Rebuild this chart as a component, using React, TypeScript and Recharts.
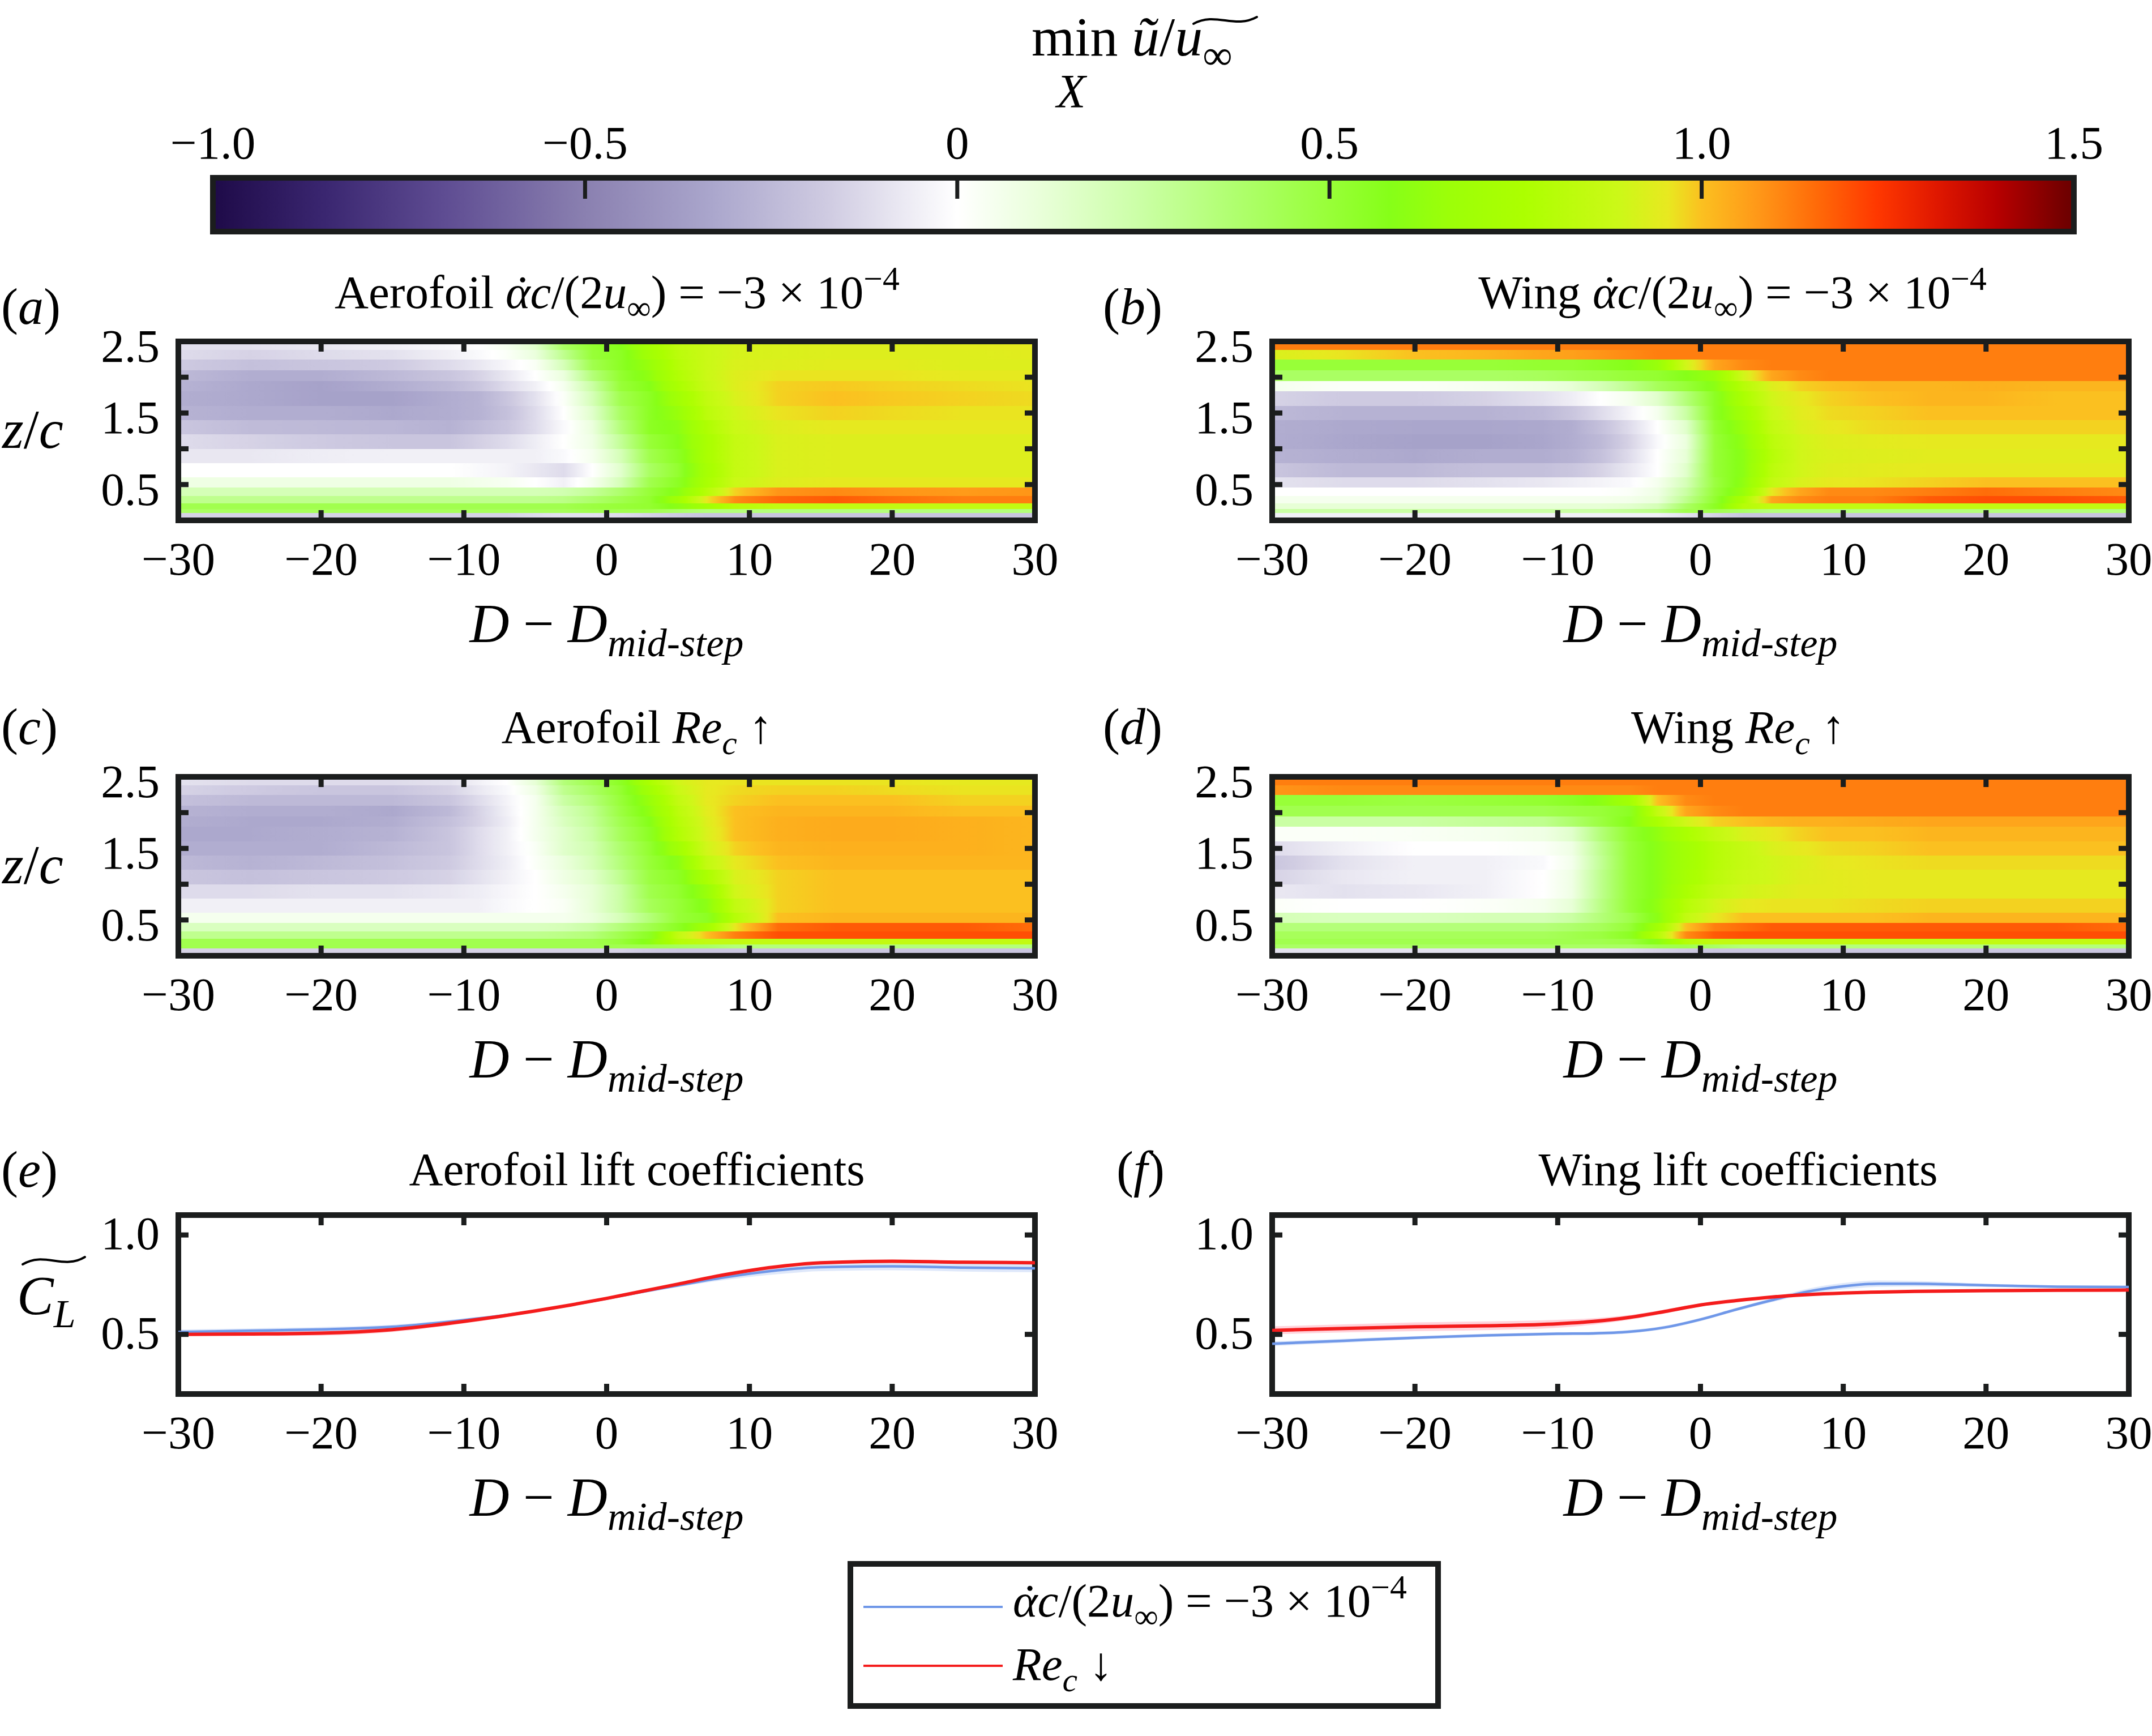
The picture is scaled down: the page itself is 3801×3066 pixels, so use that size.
import React, { useLayoutEffect, useRef, useState } from 'react';
import { ComposedChart, XAxis, YAxis, ReferenceArea, Line, Area } from 'recharts';

const SERIF = '"Liberation Serif", "Times New Roman", Times, serif';
const INK = '#1b1d1d';
const BLUE = '#6f97e8';
const RED = '#f41c1c';
const FONT = 83;
const LABEL_FONT = 97;
const TICK_LEN = 18;
const TICK_W = 9;

const CMAP_VALUES = [-1.0, -0.85, -0.69, -0.5, -0.33, -0.17, 0, 0.115, 0.24, 0.37, 0.5, 0.58, 0.66, 0.76, 0.89, 0.955, 1.0, 1.075, 1.155, 1.235, 1.315, 1.395, 1.49, 1.5];
const CMAP_COLOURS = ['#1e0a48', '#3a2670', '#5e4c92', '#8a80b0', '#aaa6cc', '#d0cce2', '#ffffff', '#e8ffd8', '#ccffa8', '#b0ff70', '#98ff38', '#86ff18', '#9cff08', '#acff00', '#ccf818', '#e8e820', '#fbc020', '#ff9818', '#ff6a08', '#ff3800', '#e01800', '#b80000', '#700000', '#6c0000'];
const CBAR_TICKS = [-1, -0.5, 0, 0.5, 1, 1.5];
const CBAR_LABELS = ['\u22121.0', '\u22120.5', '0', '0.5', '1.0', '1.5'];

const X_TICKS = [-30, -20, -10, 0, 10, 20, 30];
const X_TICK_LABELS = ['\u221230', '\u221220', '\u221210', '0', '10', '20', '30'];
const Z_TICKS = [0.5, 1, 1.5, 2, 2.5];
const Z_TICK_LABELS = ['0.5', '', '1.5', '', '2.5'];
const CL_TICKS = [0.5, 1.0];
const CL_TICK_LABELS = ['0.5', '1.0'];

// heat maps: value of min u/u_inf at these D - D_mid-step nodes, one list per z/c band
const X_NODES = [-30, -25, -20, -15, -11, -9, -7, -5, -3, -1, 1, 3, 5, 7, 9, 12, 16, 20, 25, 30];
const Z_EDGES = [0, 0.1, 0.16, 0.24, 0.34, 0.46, 0.6, 0.8, 1.0, 1.2, 1.4, 1.6, 1.8, 1.95, 2.1, 2.25, 2.38, 2.46, 2.5];

const HEAT_A = [
  [-0.15, -0.15, -0.15, -0.15, -0.15, -0.15, -0.15, -0.12, -0.1, -0.1, -0.12, -0.15, -0.18, -0.2, -0.2, -0.2, -0.2, -0.2, -0.2, -0.2],
  [0.4, 0.42, 0.42, 0.42, 0.42, 0.42, 0.42, 0.42, 0.42, 0.45, 0.45, 0.45, 0.4, 0.35, 0.35, 0.35, 0.35, 0.35, 0.35, 0.35],
  [0.45, 0.45, 0.45, 0.45, 0.45, 0.45, 0.45, 0.45, 0.45, 0.48, 0.5, 0.52, 0.6, 0.7, 0.8, 0.85, 0.85, 0.85, 0.85, 0.85],
  [0.3, 0.3, 0.3, 0.3, 0.3, 0.3, 0.3, 0.3, 0.32, 0.38, 0.45, 0.52, 0.7, 0.95, 1.1, 1.16, 1.18, 1.15, 1.12, 1.12],
  [0.2, 0.2, 0.2, 0.2, 0.2, 0.2, 0.2, 0.2, 0.22, 0.28, 0.38, 0.5, 0.6, 0.8, 0.98, 1.08, 1.1, 1.08, 1.07, 1.08],
  [0.08, 0.08, 0.08, 0.08, 0.08, 0.06, 0.04, 0.0, -0.05, 0.05, 0.2, 0.45, 0.55, 0.74, 0.88, 0.93, 0.95, 0.95, 0.95, 0.95],
  [0.0, 0.0, 0.0, 0.0, 0.0, -0.02, -0.04, -0.08, -0.12, 0.0, 0.15, 0.4, 0.52, 0.72, 0.86, 0.92, 0.93, 0.93, 0.93, 0.93],
  [-0.08, -0.08, -0.06, -0.05, -0.05, -0.05, -0.05, -0.05, -0.02, 0.05, 0.2, 0.45, 0.55, 0.74, 0.86, 0.92, 0.93, 0.93, 0.93, 0.93],
  [-0.12, -0.15, -0.18, -0.2, -0.2, -0.16, -0.12, -0.06, 0.0, 0.08, 0.28, 0.5, 0.58, 0.74, 0.86, 0.92, 0.93, 0.93, 0.93, 0.93],
  [-0.2, -0.24, -0.25, -0.26, -0.28, -0.24, -0.2, -0.12, -0.02, 0.1, 0.35, 0.55, 0.6, 0.77, 0.88, 0.93, 0.95, 0.95, 0.95, 0.95],
  [-0.28, -0.3, -0.3, -0.32, -0.3, -0.28, -0.22, -0.12, 0.0, 0.15, 0.4, 0.55, 0.65, 0.82, 0.9, 0.96, 0.98, 0.97, 0.96, 0.96],
  [-0.3, -0.32, -0.35, -0.35, -0.3, -0.28, -0.2, -0.1, 0.02, 0.2, 0.45, 0.55, 0.7, 0.84, 0.92, 0.98, 1.0, 0.99, 0.98, 0.97],
  [-0.28, -0.32, -0.35, -0.3, -0.25, -0.2, -0.12, -0.05, 0.05, 0.25, 0.5, 0.58, 0.75, 0.87, 0.93, 0.98, 0.99, 0.98, 0.97, 0.96],
  [-0.25, -0.3, -0.3, -0.25, -0.2, -0.15, -0.08, 0.0, 0.1, 0.35, 0.52, 0.62, 0.78, 0.88, 0.93, 0.96, 0.96, 0.96, 0.95, 0.95],
  [-0.18, -0.22, -0.2, -0.18, -0.12, -0.08, -0.03, 0.03, 0.2, 0.45, 0.55, 0.65, 0.8, 0.88, 0.92, 0.93, 0.94, 0.94, 0.93, 0.93],
  [-0.12, -0.15, -0.12, -0.1, -0.05, -0.02, 0.02, 0.1, 0.3, 0.5, 0.55, 0.7, 0.82, 0.88, 0.91, 0.92, 0.93, 0.93, 0.93, 0.94],
  [-0.1, -0.1, -0.08, -0.05, -0.02, 0.0, 0.05, 0.15, 0.4, 0.52, 0.58, 0.72, 0.84, 0.88, 0.91, 0.92, 0.93, 0.93, 0.94, 0.95],
  [-0.1, -0.1, -0.08, -0.05, -0.02, 0.0, 0.05, 0.15, 0.4, 0.52, 0.58, 0.72, 0.84, 0.88, 0.91, 0.92, 0.93, 0.93, 0.94, 0.95],
];

const HEAT_B = [
  [-0.05, -0.05, -0.05, -0.05, -0.05, -0.05, -0.05, -0.05, -0.05, -0.1, -0.15, -0.2, -0.2, -0.2, -0.2, -0.2, -0.2, -0.2, -0.2, -0.2],
  [0.25, 0.25, 0.25, 0.25, 0.25, 0.25, 0.25, 0.28, 0.32, 0.45, 0.45, 0.4, 0.35, 0.35, 0.35, 0.35, 0.35, 0.35, 0.35, 0.35],
  [0.12, 0.12, 0.12, 0.12, 0.12, 0.12, 0.12, 0.14, 0.2, 0.4, 0.55, 0.8, 0.85, 0.85, 0.85, 0.85, 0.85, 0.85, 0.85, 0.85],
  [0.05, 0.05, 0.05, 0.05, 0.05, 0.05, 0.05, 0.06, 0.1, 0.3, 0.52, 0.75, 1.05, 1.1, 1.12, 1.12, 1.18, 1.2, 1.2, 1.18],
  [0.0, 0.0, 0.0, 0.0, 0.0, 0.0, 0.0, 0.02, 0.08, 0.25, 0.5, 0.65, 0.95, 1.05, 1.1, 1.1, 1.12, 1.15, 1.12, 1.1],
  [-0.1, -0.12, -0.12, -0.1, -0.08, -0.06, -0.04, -0.02, 0.05, 0.2, 0.48, 0.62, 0.85, 0.92, 0.95, 0.96, 0.98, 1.0, 1.0, 1.0],
  [-0.2, -0.25, -0.25, -0.22, -0.22, -0.2, -0.15, -0.08, 0.0, 0.15, 0.5, 0.6, 0.82, 0.9, 0.93, 0.94, 0.95, 0.95, 0.95, 0.95],
  [-0.28, -0.3, -0.32, -0.3, -0.3, -0.28, -0.22, -0.12, 0.0, 0.12, 0.5, 0.6, 0.8, 0.9, 0.92, 0.93, 0.94, 0.94, 0.94, 0.94],
  [-0.3, -0.33, -0.35, -0.35, -0.33, -0.3, -0.25, -0.15, -0.02, 0.1, 0.5, 0.62, 0.82, 0.9, 0.93, 0.94, 0.95, 0.95, 0.95, 0.95],
  [-0.3, -0.32, -0.33, -0.33, -0.32, -0.3, -0.22, -0.12, 0.0, 0.15, 0.52, 0.65, 0.85, 0.92, 0.95, 0.97, 0.98, 0.98, 0.98, 0.98],
  [-0.25, -0.28, -0.28, -0.28, -0.25, -0.2, -0.12, -0.04, 0.05, 0.25, 0.55, 0.7, 0.88, 0.94, 0.97, 0.98, 1.0, 1.0, 1.0, 1.0],
  [-0.15, -0.18, -0.18, -0.15, -0.1, -0.06, 0.0, 0.05, 0.15, 0.35, 0.55, 0.75, 0.9, 0.95, 0.98, 1.0, 1.02, 1.02, 1.0, 1.0],
  [0.05, 0.02, 0.02, 0.05, 0.08, 0.12, 0.2, 0.3, 0.42, 0.5, 0.6, 0.8, 0.93, 0.98, 1.0, 1.02, 1.02, 1.03, 1.02, 1.02],
  [0.4, 0.4, 0.4, 0.4, 0.42, 0.45, 0.47, 0.5, 0.52, 0.58, 0.65, 0.9, 1.05, 1.1, 1.12, 1.12, 1.12, 1.12, 1.12, 1.12],
  [0.5, 0.5, 0.5, 0.5, 0.52, 0.52, 0.55, 0.58, 0.65, 0.9, 1.05, 1.1, 1.12, 1.12, 1.12, 1.12, 1.12, 1.12, 1.12, 1.12],
  [0.92, 0.96, 1.0, 1.02, 1.05, 1.06, 1.08, 1.1, 1.12, 1.12, 1.12, 1.12, 1.12, 1.12, 1.12, 1.12, 1.12, 1.12, 1.12, 1.12],
  [1.12, 1.12, 1.12, 1.12, 1.12, 1.12, 1.12, 1.12, 1.12, 1.12, 1.12, 1.12, 1.12, 1.12, 1.12, 1.12, 1.12, 1.12, 1.12, 1.12],
  [0.96, 0.96, 0.96, 0.96, 0.96, 0.96, 0.96, 0.96, 0.96, 0.96, 0.96, 0.96, 0.96, 0.96, 0.96, 0.96, 0.96, 0.96, 0.96, 0.96],
];

const HEAT_C = [
  [-0.15, -0.15, -0.15, -0.15, -0.15, -0.15, -0.15, -0.15, -0.15, -0.15, -0.15, -0.18, -0.2, -0.2, -0.2, -0.2, -0.2, -0.2, -0.2, -0.2],
  [0.45, 0.45, 0.45, 0.45, 0.45, 0.45, 0.45, 0.45, 0.45, 0.45, 0.45, 0.45, 0.42, 0.4, 0.35, 0.35, 0.35, 0.35, 0.35, 0.35],
  [0.45, 0.45, 0.45, 0.45, 0.45, 0.45, 0.45, 0.45, 0.45, 0.45, 0.5, 0.6, 0.8, 0.85, 0.85, 0.85, 0.85, 0.85, 0.85, 0.85],
  [0.3, 0.3, 0.3, 0.3, 0.3, 0.3, 0.3, 0.3, 0.32, 0.35, 0.45, 0.55, 0.85, 1.0, 1.12, 1.2, 1.2, 1.2, 1.2, 1.2],
  [0.18, 0.18, 0.18, 0.18, 0.18, 0.18, 0.18, 0.18, 0.2, 0.25, 0.35, 0.45, 0.55, 0.7, 0.95, 1.15, 1.18, 1.18, 1.18, 1.15],
  [0.05, 0.05, 0.05, 0.05, 0.05, 0.05, 0.05, 0.05, 0.05, 0.1, 0.2, 0.35, 0.5, 0.55, 0.8, 1.0, 1.02, 1.02, 1.02, 1.02],
  [-0.05, -0.05, -0.05, -0.05, -0.05, -0.05, -0.02, 0.0, 0.03, 0.12, 0.25, 0.42, 0.5, 0.6, 0.85, 0.98, 1.0, 1.0, 1.0, 1.0],
  [-0.12, -0.12, -0.1, -0.1, -0.08, -0.06, -0.03, 0.0, 0.05, 0.12, 0.25, 0.45, 0.52, 0.65, 0.9, 0.98, 1.0, 1.0, 1.0, 1.0],
  [-0.2, -0.22, -0.2, -0.18, -0.15, -0.1, -0.05, 0.0, 0.08, 0.15, 0.3, 0.48, 0.55, 0.75, 0.92, 0.98, 1.0, 1.0, 1.0, 1.0],
  [-0.25, -0.28, -0.25, -0.22, -0.18, -0.12, -0.06, 0.02, 0.1, 0.2, 0.35, 0.5, 0.6, 0.85, 0.95, 1.0, 1.02, 1.02, 1.02, 1.02],
  [-0.3, -0.3, -0.3, -0.25, -0.2, -0.12, -0.05, 0.03, 0.15, 0.22, 0.38, 0.52, 0.7, 0.9, 0.98, 1.02, 1.03, 1.03, 1.03, 1.02],
  [-0.32, -0.32, -0.3, -0.28, -0.2, -0.12, -0.05, 0.05, 0.15, 0.25, 0.42, 0.55, 0.78, 0.92, 1.0, 1.03, 1.04, 1.04, 1.03, 1.02],
  [-0.3, -0.32, -0.32, -0.3, -0.22, -0.15, -0.06, 0.05, 0.18, 0.28, 0.45, 0.58, 0.8, 0.93, 1.0, 1.03, 1.04, 1.04, 1.03, 1.02],
  [-0.28, -0.3, -0.3, -0.32, -0.25, -0.15, -0.05, 0.05, 0.2, 0.3, 0.48, 0.62, 0.82, 0.94, 1.0, 1.02, 1.02, 1.02, 1.0, 1.0],
  [-0.22, -0.25, -0.25, -0.25, -0.2, -0.12, -0.04, 0.05, 0.25, 0.35, 0.5, 0.65, 0.85, 0.95, 0.98, 1.0, 1.0, 1.0, 0.98, 0.98],
  [-0.15, -0.18, -0.2, -0.2, -0.15, -0.08, -0.02, 0.08, 0.3, 0.4, 0.52, 0.7, 0.88, 0.95, 0.97, 0.98, 0.98, 0.97, 0.96, 0.96],
  [-0.1, -0.12, -0.12, -0.12, -0.1, -0.05, 0.0, 0.12, 0.35, 0.45, 0.55, 0.75, 0.9, 0.95, 0.96, 0.96, 0.96, 0.96, 0.95, 0.95],
  [-0.1, -0.12, -0.12, -0.12, -0.1, -0.05, 0.0, 0.12, 0.35, 0.45, 0.55, 0.75, 0.9, 0.95, 0.96, 0.96, 0.96, 0.96, 0.95, 0.95],
];

const HEAT_D = [
  [-0.1, -0.1, -0.1, -0.1, -0.1, -0.1, -0.1, -0.12, -0.15, -0.18, -0.2, -0.2, -0.2, -0.2, -0.2, -0.2, -0.2, -0.2, -0.2, -0.2],
  [0.4, 0.4, 0.4, 0.4, 0.4, 0.4, 0.4, 0.4, 0.45, 0.45, 0.4, 0.35, 0.35, 0.35, 0.35, 0.35, 0.35, 0.35, 0.35, 0.35],
  [0.45, 0.45, 0.45, 0.45, 0.45, 0.45, 0.45, 0.48, 0.6, 0.8, 0.85, 0.85, 0.85, 0.85, 0.85, 0.85, 0.85, 0.85, 0.85, 0.85],
  [0.42, 0.42, 0.42, 0.42, 0.42, 0.45, 0.48, 0.55, 0.8, 1.1, 1.18, 1.2, 1.2, 1.2, 1.2, 1.2, 1.2, 1.2, 1.2, 1.2],
  [0.35, 0.35, 0.35, 0.35, 0.35, 0.38, 0.42, 0.5, 0.7, 1.0, 1.12, 1.15, 1.18, 1.18, 1.18, 1.18, 1.18, 1.18, 1.18, 1.15],
  [0.2, 0.18, 0.18, 0.2, 0.2, 0.25, 0.35, 0.45, 0.6, 0.85, 0.95, 1.0, 1.0, 1.0, 1.0, 1.0, 1.02, 1.02, 1.02, 1.02],
  [0.02, 0.0, 0.0, 0.02, 0.05, 0.12, 0.32, 0.5, 0.62, 0.8, 0.9, 0.95, 0.96, 0.96, 0.96, 0.97, 0.98, 0.98, 0.98, 0.98],
  [-0.08, -0.1, -0.08, -0.05, 0.0, 0.08, 0.3, 0.5, 0.6, 0.75, 0.85, 0.9, 0.92, 0.94, 0.94, 0.95, 0.95, 0.95, 0.95, 0.95],
  [-0.15, -0.08, -0.05, -0.05, 0.0, 0.08, 0.3, 0.5, 0.6, 0.72, 0.82, 0.88, 0.9, 0.93, 0.94, 0.95, 0.95, 0.95, 0.95, 0.95],
  [-0.2, -0.1, -0.05, -0.05, -0.02, 0.06, 0.28, 0.5, 0.6, 0.7, 0.8, 0.86, 0.9, 0.92, 0.95, 0.96, 0.97, 0.97, 0.97, 0.97],
  [-0.12, -0.05, 0.0, 0.0, 0.02, 0.08, 0.3, 0.5, 0.6, 0.7, 0.8, 0.86, 0.92, 0.95, 0.97, 0.98, 1.0, 1.0, 1.0, 1.0],
  [0.02, 0.02, 0.03, 0.05, 0.08, 0.15, 0.35, 0.52, 0.62, 0.75, 0.85, 0.92, 0.95, 0.98, 1.0, 1.0, 1.02, 1.02, 1.02, 1.02],
  [0.25, 0.25, 0.25, 0.28, 0.3, 0.38, 0.48, 0.58, 0.75, 0.9, 0.98, 1.0, 1.02, 1.03, 1.03, 1.04, 1.05, 1.05, 1.05, 1.05],
  [0.45, 0.45, 0.45, 0.45, 0.45, 0.48, 0.5, 0.55, 0.85, 1.05, 1.1, 1.12, 1.12, 1.12, 1.12, 1.12, 1.12, 1.12, 1.12, 1.12],
  [0.5, 0.5, 0.48, 0.5, 0.52, 0.55, 0.6, 0.7, 1.0, 1.1, 1.12, 1.12, 1.12, 1.12, 1.12, 1.12, 1.12, 1.12, 1.12, 1.12],
  [1.08, 1.1, 1.1, 1.1, 1.1, 1.1, 1.1, 1.1, 1.12, 1.12, 1.12, 1.12, 1.12, 1.12, 1.12, 1.12, 1.12, 1.12, 1.12, 1.12],
  [1.12, 1.12, 1.12, 1.12, 1.12, 1.12, 1.12, 1.12, 1.12, 1.12, 1.12, 1.12, 1.12, 1.12, 1.12, 1.12, 1.12, 1.12, 1.12, 1.12],
  [0.96, 0.96, 0.96, 0.96, 0.96, 0.96, 0.96, 0.96, 0.96, 0.96, 0.96, 0.96, 0.96, 0.96, 0.96, 0.96, 0.96, 0.96, 0.96, 0.96],
];

// lift coefficients
const CL_X = [-30, -25, -20, -15, -10, -7.5, -5, -2.5, 0, 2.5, 5, 7.5, 10, 12.5, 15, 20, 25, 30];
const AERO_BLUE = [0.512, 0.518, 0.525, 0.538, 0.572, 0.593, 0.618, 0.648, 0.68, 0.714, 0.746, 0.778, 0.805, 0.826, 0.838, 0.842, 0.836, 0.832];
const AERO_RED = [0.5, 0.502, 0.506, 0.524, 0.565, 0.59, 0.618, 0.648, 0.681, 0.717, 0.753, 0.79, 0.821, 0.845, 0.86, 0.868, 0.863, 0.86];
const AERO_BLUE_SPREAD = [0.012, 0.012, 0.012, 0.01, 0.008, 0.006, 0.005, 0.005, 0.005, 0.006, 0.008, 0.012, 0.016, 0.02, 0.02, 0.02, 0.02, 0.02];
const AERO_RED_SPREAD = [0.008, 0.01, 0.012, 0.012, 0.01, 0.008, 0.006, 0.005, 0.005, 0.005, 0.005, 0.005, 0.005, 0.005, 0.005, 0.005, 0.005, 0.005];
const WING_BLUE = [0.453, 0.468, 0.483, 0.495, 0.503, 0.505, 0.513, 0.535, 0.575, 0.625, 0.672, 0.715, 0.742, 0.755, 0.755, 0.747, 0.74, 0.738];
const WING_RED = [0.52, 0.53, 0.538, 0.543, 0.553, 0.565, 0.585, 0.615, 0.648, 0.67, 0.688, 0.7, 0.708, 0.713, 0.716, 0.72, 0.722, 0.723];
const WING_BLUE_SPREAD = [0.012, 0.01, 0.008, 0.008, 0.008, 0.008, 0.008, 0.008, 0.008, 0.008, 0.01, 0.014, 0.016, 0.016, 0.014, 0.008, 0.006, 0.006];
const WING_RED_SPREAD = [0.02, 0.02, 0.022, 0.022, 0.02, 0.016, 0.012, 0.01, 0.008, 0.006, 0.005, 0.005, 0.005, 0.005, 0.005, 0.005, 0.005, 0.005];

const PLOT_W = 1513;
const PLOT_H = 316;
const PAD = { top: 40, right: 40, bottom: 130, left: 180 };
// the four axes each take 1px of the margin
const MARGIN = { top: PAD.top - 1, right: PAD.right - 1, bottom: PAD.bottom - 1, left: PAD.left - 1 };

function hexRgb(h: string) {
  const n = parseInt(h.slice(1), 16);
  return [(n >> 16) & 255, (n >> 8) & 255, n & 255];
}

function cmap(v: number) {
  if (v <= CMAP_VALUES[0]) return CMAP_COLOURS[0];
  for (let i = 1; i < CMAP_VALUES.length; i++) {
    if (v <= CMAP_VALUES[i]) {
      const t = (v - CMAP_VALUES[i - 1]) / (CMAP_VALUES[i] - CMAP_VALUES[i - 1]);
      const a = hexRgb(CMAP_COLOURS[i - 1]);
      const b = hexRgb(CMAP_COLOURS[i]);
      const c = a.map((q, k) => Math.round(q + (b[k] - q) * t));
      return `rgb(${c[0]},${c[1]},${c[2]})`;
    }
  }
  return CMAP_COLOURS[CMAP_COLOURS.length - 1];
}

// horizontal shading of one z band, stops placed along the x domain
function RowGradient({ id, values }: { id: string; values: number[] }) {
  const span = X_NODES[X_NODES.length - 1] - X_NODES[0];
  const stops: [number, string][] = [];
  for (let k = 0; k < X_NODES.length - 1; k++) {
    for (let s = 0; s < 4; s++) {
      const t = s / 4;
      const x = X_NODES[k] + (X_NODES[k + 1] - X_NODES[k]) * t;
      const v = values[k] + (values[k + 1] - values[k]) * t;
      stops.push([(x - X_NODES[0]) / span, cmap(v)]);
    }
  }
  stops.push([1, cmap(values[values.length - 1])]);
  return (
    <linearGradient id={id} x1="0" y1="0" x2="1" y2="0">
      {stops.map(([o, c], i) => <stop key={i} offset={o} stopColor={c} />)}
    </linearGradient>
  );
}

function xTick(side: 'bottom' | 'top', ticks: number[], labels: string[], lo: number, hi: number, dy: number) {
  return (p: any) => {
    const v = Number(p.payload.value);
    const k = ticks.indexOf(v);
    const inner = v > lo && v < hi;
    const dir = side === 'bottom' ? -1 : 1;
    return (
      <g>
        {inner && <line x1={p.x} x2={p.x} y1={p.y} y2={p.y + dir * TICK_LEN} stroke={INK} strokeWidth={TICK_W} />}
        {side === 'bottom' && k >= 0 && labels[k] && (
          <text x={p.x} y={p.y + dy} textAnchor="middle" fontFamily={SERIF} fontSize={FONT} fill="#000">{labels[k]}</text>
        )}
      </g>
    );
  };
}

function yTick(side: 'left' | 'right', ticks: number[], labels: string[], lo: number, hi: number, dy: number) {
  return (p: any) => {
    const v = Number(p.payload.value);
    const k = ticks.indexOf(v);
    const inner = v > lo && v < hi;
    const dir = side === 'left' ? 1 : -1;
    return (
      <g>
        {inner && <line x1={p.x} x2={p.x + dir * TICK_LEN} y1={p.y} y2={p.y} stroke={INK} strokeWidth={TICK_W} />}
        {side === 'left' && k >= 0 && labels[k] && (
          <text x={p.x - 33} y={p.y + dy} textAnchor="end" fontFamily={SERIF} fontSize={FONT} fill="#000">{labels[k]}</text>
        )}
      </g>
    );
  };
}

function HeatPanel({ id, rows, px, py }: { id: string; rows: number[][]; px: number; py: number }) {
  return (
    <div style={{ position: 'absolute', left: px - PAD.left, top: py - PAD.top }}>
      <ComposedChart width={PLOT_W + PAD.left + PAD.right} height={PLOT_H + PAD.top + PAD.bottom} margin={MARGIN} data={[]}>
        {rows.map((_, i) => (
          <ReferenceArea
            key={i}
            x1={-30}
            x2={30}
            y1={Z_EDGES[i]}
            y2={Z_EDGES[i + 1]}
            fill={`url(#${id}-${i})`}
            fillOpacity={1}
            stroke="none"
            ifOverflow="visible"
            shapeRendering="crispEdges"
          />
        ))}
        <ReferenceArea x1={-30} x2={30} y1={0} y2={2.5} fill="none" fillOpacity={0} stroke={INK} strokeWidth={10} ifOverflow="visible" />
        <XAxis type="number" dataKey="x" domain={[-30, 30]} ticks={X_TICKS} interval={0} height={1} tickSize={0} tickMargin={0}
          axisLine={false} tickLine={false} allowDataOverflow tick={xTick('bottom', X_TICKS, X_TICK_LABELS, -30, 30, 96)} />
        <XAxis xAxisId="top" orientation="top" type="number" dataKey="x" domain={[-30, 30]} ticks={X_TICKS} interval={0} height={1}
          tickSize={0} tickMargin={0} axisLine={false} tickLine={false} allowDataOverflow tick={xTick('top', X_TICKS, X_TICK_LABELS, -30, 30, 0)} />
        <YAxis type="number" domain={[0, 2.5]} ticks={Z_TICKS} interval={0} width={1} tickSize={0} tickMargin={0}
          axisLine={false} tickLine={false} allowDataOverflow tick={yTick('left', Z_TICKS, Z_TICK_LABELS, 0, 2.5, 36)} />
        <YAxis yAxisId="right" orientation="right" type="number" domain={[0, 2.5]} ticks={Z_TICKS} interval={0} width={1}
          tickSize={0} tickMargin={0} axisLine={false} tickLine={false} allowDataOverflow tick={yTick('right', Z_TICKS, Z_TICK_LABELS, 0, 2.5, 0)} />
      </ComposedChart>
    </div>
  );
}

function LinePanel({ px, py, blue, red, blueSpread, redSpread }: {
  px: number; py: number; blue: number[]; red: number[]; blueSpread: number[]; redSpread: number[];
}) {
  const data = CL_X.map((x, i) => ({
    x,
    blue: blue[i],
    red: red[i],
    blueBand: [blue[i] - blueSpread[i], blue[i] + blueSpread[i]],
    redBand: [red[i] - redSpread[i], red[i] + redSpread[i]],
  }));
  return (
    <div style={{ position: 'absolute', left: px - PAD.left, top: py - PAD.top }}>
      <ComposedChart width={PLOT_W + PAD.left + PAD.right} height={PLOT_H + PAD.top + PAD.bottom} margin={MARGIN} data={data}>
        <Area dataKey="blueBand" type="monotone" stroke="none" fill={BLUE} fillOpacity={0.22} isAnimationActive={false} activeDot={false} />
        <Area dataKey="redBand" type="monotone" stroke="none" fill="#ff5070" fillOpacity={0.25} isAnimationActive={false} activeDot={false} />
        <Line dataKey="blue" type="monotone" stroke={BLUE} strokeWidth={4.5} dot={false} activeDot={false} isAnimationActive={false} />
        <Line dataKey="red" type="monotone" stroke={RED} strokeWidth={6} dot={false} activeDot={false} isAnimationActive={false} />
        <ReferenceArea x1={-30} x2={30} y1={0.2} y2={1.1} fill="none" fillOpacity={0} stroke={INK} strokeWidth={10} ifOverflow="visible" />
        <XAxis type="number" dataKey="x" domain={[-30, 30]} ticks={X_TICKS} interval={0} height={1} tickSize={0} tickMargin={0}
          axisLine={false} tickLine={false} allowDataOverflow tick={xTick('bottom', X_TICKS, X_TICK_LABELS, -30, 30, 96)} />
        <XAxis xAxisId="top" orientation="top" type="number" dataKey="x" domain={[-30, 30]} ticks={X_TICKS} interval={0} height={1}
          tickSize={0} tickMargin={0} axisLine={false} tickLine={false} allowDataOverflow tick={xTick('top', X_TICKS, X_TICK_LABELS, -30, 30, 0)} />
        <YAxis type="number" domain={[0.2, 1.1]} ticks={CL_TICKS} interval={0} width={1} tickSize={0} tickMargin={0}
          axisLine={false} tickLine={false} allowDataOverflow tick={yTick('left', CL_TICKS, CL_TICK_LABELS, 0.2, 1.1, 25)} />
        <YAxis yAxisId="right" orientation="right" type="number" domain={[0.2, 1.1]} ticks={CL_TICKS} interval={0} width={1}
          tickSize={0} tickMargin={0} axisLine={false} tickLine={false} allowDataOverflow tick={yTick('right', CL_TICKS, CL_TICK_LABELS, 0.2, 1.1, 0)} />
      </ComposedChart>
    </div>
  );
}

function ColourBar() {
  const cb = { top: 150, right: 90, bottom: 20, left: 130 };
  const px = 376;
  const py = 314;
  const w = 3287;
  const h = 95;
  const tick = (p: any) => {
    const v = Number(p.payload.value);
    const k = CBAR_TICKS.indexOf(v);
    const inner = v > CBAR_TICKS[0] && v < CBAR_TICKS[CBAR_TICKS.length - 1];
    return (
      <g>
        {inner && <line x1={p.x} x2={p.x} y1={p.y} y2={p.y + 37} stroke={INK} strokeWidth={7} />}
        <text x={p.x} y={p.y - 34} textAnchor="middle" fontFamily={SERIF} fontSize={FONT} fill="#000">{CBAR_LABELS[k]}</text>
      </g>
    );
  };
  return (
    <div style={{ position: 'absolute', left: px - cb.left, top: py - cb.top }}>
      <ComposedChart width={w + cb.left + cb.right} height={h + cb.top + cb.bottom}
        margin={{ top: cb.top - 1, right: cb.right, bottom: cb.bottom, left: cb.left - 1 }} data={[]}>
        <ReferenceArea x1={-1} x2={1.5} y1={0} y2={1} fill="url(#cbar)" fillOpacity={1} stroke={INK} strokeWidth={10} ifOverflow="visible" />
        <XAxis orientation="top" type="number" dataKey="x" domain={[-1, 1.5]} ticks={CBAR_TICKS} interval={0} height={1} tickSize={0}
          tickMargin={0} axisLine={false} tickLine={false} allowDataOverflow tick={tick} />
        <YAxis type="number" domain={[0, 1]} width={1} tick={false} axisLine={false} tickLine={false} allowDataOverflow />
      </ComposedChart>
    </div>
  );
}

type Seg = { t: string; i?: boolean; sub?: boolean; sup?: boolean; dot?: boolean };

function Rich({ x, y, segs, size, anchor = 'middle', subDy = 0.24, supDy = -0.38, small = 0.72 }: {
  x: number; y: number; segs: Seg[]; size: number; anchor?: string; subDy?: number; supDy?: number; small?: number;
}) {
  // a segment flagged "dot" gets an overdot drawn above its first letter
  const dotRef = useRef<any>(null);
  const [dot, setDot] = useState<[number, number] | null>(null);
  useLayoutEffect(() => {
    const el = dotRef.current;
    if (el && el.getExtentOfChar) {
      const r = el.getExtentOfChar(0);
      setDot([r.x + r.width * 0.5 + size * 0.1, y - size * 0.6]);
    }
  }, [x, y, size]);
  let shift = 0;
  return (
    <g>
      <text x={x} y={y} fontSize={size} fontFamily={SERIF} textAnchor={anchor as any} fill="#000">
        {segs.map((s, k) => {
          const target = s.sub ? subDy * size : s.sup ? supDy * size : 0;
          const dy = target - shift;
          shift = target;
          return (
            <tspan key={k} ref={s.dot ? dotRef : undefined} dy={dy} fontStyle={s.i ? 'italic' : 'normal'}
              fontSize={s.sub || s.sup ? size * small : size}>
              {s.t}
            </tspan>
          );
        })}
      </text>
      {dot && <circle cx={dot[0]} cy={dot[1]} r={size * 0.055} fill="#000" />}
    </g>
  );
}

function Tilde({ x, y, w, h, sw = 4 }: { x: number; y: number; w: number; h: number; sw?: number }) {
  const d = `M ${x} ${y + h} C ${x + w * 0.35} ${y - h * 0.8}, ${x + w * 0.65} ${y + h * 1.8}, ${x + w} ${y}`;
  return <path d={d} fill="none" stroke="#000" strokeWidth={sw} strokeLinecap="round" />;
}

const RATE_SEGS: Seg[] = [
  { t: '\u03B1', i: true, dot: true }, { t: 'c', i: true }, { t: '/(2' }, { t: 'u', i: true },
  { t: '\u221E', sub: true }, { t: ') = \u22123 \u00D7 10' }, { t: '\u22124', sup: true },
];
const AXIS_SEGS: Seg[] = [{ t: 'D', i: true }, { t: ' \u2212 ' }, { t: 'D', i: true }, { t: 'mid-step', i: true, sub: true }];

function Letter({ x, y, l }: { x: number; y: number; l: string }) {
  return <Rich x={x} y={y} size={90} anchor="start" segs={[{ t: '(' }, { t: l, i: true }, { t: ')' }]} />;
}

function Overlay() {
  const leftC = 315 + PLOT_W / 2;
  const rightC = 2247 + PLOT_W / 2;
  const rows = [603, 1372, 2146];
  return (
    <svg width={3801} height={3066} style={{ position: 'absolute', left: 0, top: 0 }}>
      {/* colour bar label */}
      <Rich x={1822} y={98} size={98} anchor="start" small={0.75}
        segs={[{ t: 'min ' }, { t: '\u0169', i: true }, { t: '/' }, { t: 'u', i: true }, { t: '\u221E', sub: true }]} />
      <Tilde x={2108} y={30} w={112} h={12} />
      <Rich x={1892} y={190} size={84} segs={[{ t: 'X', i: true }]} />

      {/* panel letters */}
      <Letter x={2} y={572} l="a" />
      <Letter x={1948} y={572} l="b" />
      <Letter x={2} y={1314} l="c" />
      <Letter x={1948} y={1314} l="d" />
      <Letter x={2} y={2096} l="e" />
      <Letter x={1972} y={2096} l="f" />

      {/* titles */}
      <Rich x={1090} y={544} size={FONT} segs={[{ t: 'Aerofoil ' }, ...RATE_SEGS]} />
      <Rich x={3060} y={544} size={FONT} segs={[{ t: 'Wing ' }, ...RATE_SEGS]} />
      <Rich x={1125} y={1312} size={FONT} segs={[{ t: 'Aerofoil ' }, { t: 'Re', i: true }, { t: 'c', i: true, sub: true }, { t: ' \u2191' }]} />
      <Rich x={3070} y={1312} size={FONT} segs={[{ t: 'Wing ' }, { t: 'Re', i: true }, { t: 'c', i: true, sub: true }, { t: ' \u2191' }]} />
      <Rich x={1125} y={2093} size={FONT} segs={[{ t: 'Aerofoil lift coefficients' }]} />
      <Rich x={3070} y={2093} size={FONT} segs={[{ t: 'Wing lift coefficients' }]} />

      {/* x axis labels */}
      {rows.map((r) => (
        <g key={r}>
          <Rich x={leftC} y={r + PLOT_H + 215} size={LABEL_FONT} small={0.72} subDy={0.26} segs={AXIS_SEGS} />
          <Rich x={rightC} y={r + PLOT_H + 215} size={LABEL_FONT} small={0.72} subDy={0.26} segs={AXIS_SEGS} />
        </g>
      ))}

      {/* y axis labels */}
      <Rich x={4} y={791} size={LABEL_FONT} anchor="start" segs={[{ t: 'z', i: true }, { t: '/' }, { t: 'c', i: true }]} />
      <Rich x={4} y={1560} size={LABEL_FONT} anchor="start" segs={[{ t: 'z', i: true }, { t: '/' }, { t: 'c', i: true }]} />
      <Rich x={30} y={2321} size={LABEL_FONT} anchor="start" subDy={0.24} small={0.72} segs={[{ t: 'C', i: true }, { t: 'L', i: true, sub: true }]} />
      <Tilde x={40} y={2220} w={110} h={13} />

      {/* legend */}
      <rect x={1502} y={2762} width={1038} height={251} fill="#fff" stroke={INK} strokeWidth={10} />
      <line x1={1525} x2={1771} y1={2838} y2={2838} stroke={BLUE} strokeWidth={4} />
      <line x1={1525} x2={1771} y1={2942} y2={2942} stroke={RED} strokeWidth={4} />
      <Rich x={1789} y={2855} size={FONT} anchor="start" segs={RATE_SEGS} />
      <Rich x={1789} y={2967} size={FONT} anchor="start" segs={[{ t: 'Re', i: true }, { t: 'c', i: true, sub: true }, { t: ' \u2193' }]} />
    </svg>
  );
}

const PANELS = [
  { id: 'ha', rows: HEAT_A, px: 315, py: 603 },
  { id: 'hb', rows: HEAT_B, px: 2247, py: 603 },
  { id: 'hc', rows: HEAT_C, px: 315, py: 1372 },
  { id: 'hd', rows: HEAT_D, px: 2247, py: 1372 },
];

export default function App() {
  return (
    <div style={{ position: 'absolute', left: 0, top: 0, width: 3801, height: 3066, background: '#fff', overflow: 'hidden' }}>
      <svg width={0} height={0} style={{ position: 'absolute' }}>
        <defs>
          <linearGradient id="cbar" x1="0" y1="0" x2="1" y2="0">
            {CMAP_VALUES.map((v, i) => <stop key={i} offset={(v + 1) / 2.5} stopColor={CMAP_COLOURS[i]} />)}
          </linearGradient>
          {PANELS.map((p) => p.rows.map((r, i) => <RowGradient key={`${p.id}-${i}`} id={`${p.id}-${i}`} values={r} />))}
        </defs>
      </svg>
      <ColourBar />
      {PANELS.map((p) => <HeatPanel key={p.id} id={p.id} rows={p.rows} px={p.px} py={p.py} />)}
      <LinePanel px={315} py={2146} blue={AERO_BLUE} red={AERO_RED} blueSpread={AERO_BLUE_SPREAD} redSpread={AERO_RED_SPREAD} />
      <LinePanel px={2247} py={2146} blue={WING_BLUE} red={WING_RED} blueSpread={WING_BLUE_SPREAD} redSpread={WING_RED_SPREAD} />
      <Overlay />
    </div>
  );
}
